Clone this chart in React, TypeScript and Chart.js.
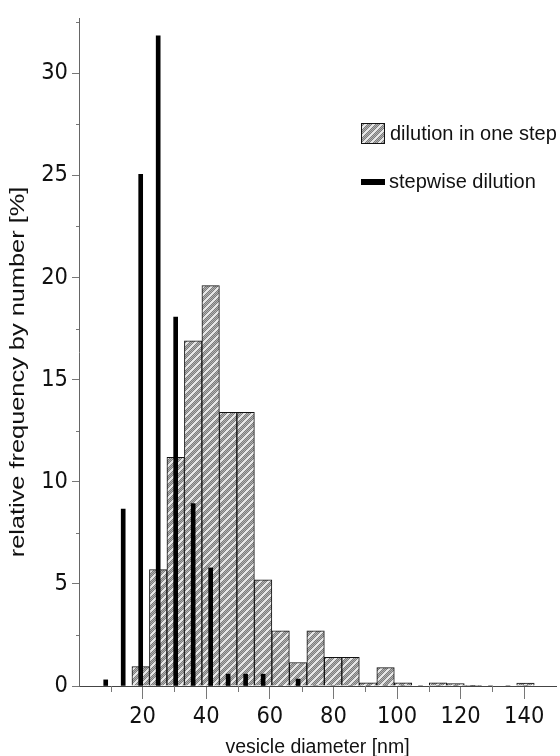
import React, { useEffect, useRef } from 'react';
import { Chart, registerables } from 'chart.js';

Chart.register(...registerables);

// ---- data ----
const binCenters = [8.4, 13.9, 19.4, 24.9, 30.4, 35.9, 41.4, 46.9, 52.4, 57.9, 63.4, 68.9, 74.4, 79.9, 85.4, 90.9, 96.4, 101.9, 107.4, 112.9, 118.4, 123.9, 129.4, 134.9, 140.4];
const oneStepValues = [0, 0, 0.95, 5.7, 11.2, 16.9, 19.6, 13.4, 13.4, 5.2, 2.7, 1.15, 2.7, 1.4, 1.4, 0.16, 0.9, 0.16, 0, 0.16, 0.12, 0.03, 0, 0, 0.14];
const stepwiseValues = [0.3, 8.66, 25.05, 31.83, 18.06, 8.93, 5.78, 0.58, 0.58, 0.58, 0, 0.34, 0, 0, 0, 0, 0, 0, 0, 0, 0, 0, 0, 0, 0];
const xTickValues = [20, 40, 60, 80, 100, 120, 140];
const xMinorTicks = [10, 30, 50, 70, 90, 110, 130];
const yTickValues = [0, 5, 10, 15, 20, 25, 30];
const yMinorTicks = [2.5, 7.5, 12.5, 17.5, 22.5, 27.5, 32.5];
const seriesLabels = ['dilution in one step', 'stepwise dilution'];
const xTitle = 'vesicle diameter [nm]';
const yTitle = 'relative frequency by number [%]';

const FONT = "'Liberation Sans', Arial, Helvetica, sans-serif";
const NARROW = "'Liberation Sans Narrow', 'Arial Narrow', 'DejaVu Sans Condensed', sans-serif";

function makeHatch(): CanvasPattern | string {
  const P = 8;
  const c = document.createElement('canvas');
  c.width = P;
  c.height = P;
  const g = c.getContext('2d');
  if (!g) return '#b0b0b0';
  const img = g.createImageData(P, P);
  for (let y = 0; y < P; y++) {
    for (let x = 0; x < P; x++) {
      const d = (x + y) % P;
      let v: number;
      if (d < 3) v = 230;
      else if (d % 2 === 1) v = 125;
      else v = 176;
      const i = (y * P + x) * 4;
      img.data[i] = v;
      img.data[i + 1] = v;
      img.data[i + 2] = v;
      img.data[i + 3] = 255;
    }
  }
  g.putImageData(img, 0, 0);
  const p = g.createPattern(c, 'repeat');
  return p || '#b0b0b0';
}

export default function App() {
  const ref = useRef<HTMLCanvasElement | null>(null);

  useEffect(() => {
    if (!ref.current) return;
    const hatch = makeHatch();

    const overlay = {
      id: 'overlay',
      afterDraw(chart: any) {
        const { ctx, chartArea, scales } = chart;
        const xs = scales.x;
        const ys = scales.y;
        ctx.save();
        ctx.strokeStyle = '#777';
        ctx.lineWidth = 1;
        ctx.beginPath();
        for (const v of xMinorTicks) {
          const px = Math.round(xs.getPixelForValue(v)) + 0.5;
          ctx.moveTo(px, chartArea.bottom);
          ctx.lineTo(px, chartArea.bottom + 6);
        }
        for (const v of yMinorTicks) {
          const py = Math.round(ys.getPixelForValue(v)) + 0.5;
          ctx.moveTo(chartArea.left - 3, py);
          ctx.lineTo(chartArea.left, py);
        }
        ctx.stroke();

        // y axis title (the scanned figure is stretched vertically)
        ctx.save();
        ctx.translate(19, 372);
        ctx.rotate(-Math.PI / 2);
        ctx.scale(1.3, 1);
        ctx.font = `19.5px ${FONT}`;
        ctx.textAlign = 'center';
        ctx.textBaseline = 'middle';
        ctx.fillStyle = '#111';
        ctx.fillText(yTitle, 0, 0);
        ctx.restore();

        // legend (inside plot, top right)
        ctx.font = `20px ${FONT}`;
        ctx.textBaseline = 'middle';
        ctx.textAlign = 'left';
        ctx.fillStyle = hatch as any;
        ctx.fillRect(361, 123, 24, 21);
        ctx.strokeStyle = '#111';
        ctx.strokeRect(361.5, 123.5, 23, 20);
        ctx.fillStyle = '#111';
        ctx.fillText(seriesLabels[0], 390, 134);
        ctx.fillStyle = '#000';
        ctx.fillRect(361, 179, 24, 6);
        ctx.fillStyle = '#111';
        ctx.fillText(seriesLabels[1], 389, 182);
        ctx.restore();
      },
    };

    const chart = new Chart(ref.current, {
      type: 'bar',
      data: {
        datasets: [
          {
            label: seriesLabels[1],
            data: binCenters.map((x, i) => ({ x, y: stepwiseValues[i] })),
            backgroundColor: '#000',
            borderWidth: 0,
            barThickness: 4,
            grouped: false,
            order: 0,
          } as any,
          {
            label: seriesLabels[0],
            data: binCenters.map((x, i) => ({ x, y: oneStepValues[i] })),
            backgroundColor: hatch as any,
            borderColor: '#111',
            borderWidth: 1,
            barPercentage: 1,
            categoryPercentage: 1,
            grouped: false,
            order: 1,
          } as any,
        ],
      },
      options: {
        animation: false,
        responsive: true,
        maintainAspectRatio: false,
        layout: { padding: { top: 12, right: 4, left: 0, bottom: 0 } },
        plugins: {
          legend: { display: false },
          tooltip: { enabled: false },
        },
        scales: {
          x: {
            type: 'linear',
            min: 0,
            max: 150,
            offset: false,
            afterBuildTicks: (s: any) => {
              s.ticks = xTickValues.map((v) => ({ value: v }));
            },
            afterFit: (s: any) => {
              s.height = 70;
            },
            grid: {
              offset: false,
              drawOnChartArea: false,
              drawTicks: true,
              tickLength: 13,
              tickColor: '#777',
            },
            border: { display: true, color: '#444', width: 1 },
            ticks: {
              color: '#111',
              padding: 4,
              maxRotation: 0,
              autoSkip: false,
              font: { family: NARROW, size: 23.4 },
            },
            title: {
              display: true,
              text: xTitle,
              color: '#111',
              padding: { top: 0, bottom: 0 },
              font: { family: FONT, size: 19.5, lineHeight: 0.9 },
            },
          },
          y: {
            type: 'linear',
            min: 0,
            max: 32.7,
            afterBuildTicks: (s: any) => {
              s.ticks = yTickValues.map((v) => ({ value: v }));
            },
            afterFit: (s: any) => {
              s.width = 79;
            },
            grid: {
              drawOnChartArea: false,
              drawTicks: true,
              tickLength: 7,
              tickColor: '#777',
            },
            border: { display: true, color: '#666', width: 1 },
            ticks: {
              color: '#111',
              padding: 4,
              font: { family: NARROW, size: 23.4 },
            },
            title: { display: false, text: yTitle },
          },
        },
      } as any,
      plugins: [overlay],
    });

    return () => {
      chart.destroy();
    };
  }, []);

  return (
    <div style={{ position: 'fixed', left: 0, top: 0, width: 560, height: 756, background: '#fff' }}>
      <canvas ref={ref} />
    </div>
  );
}
